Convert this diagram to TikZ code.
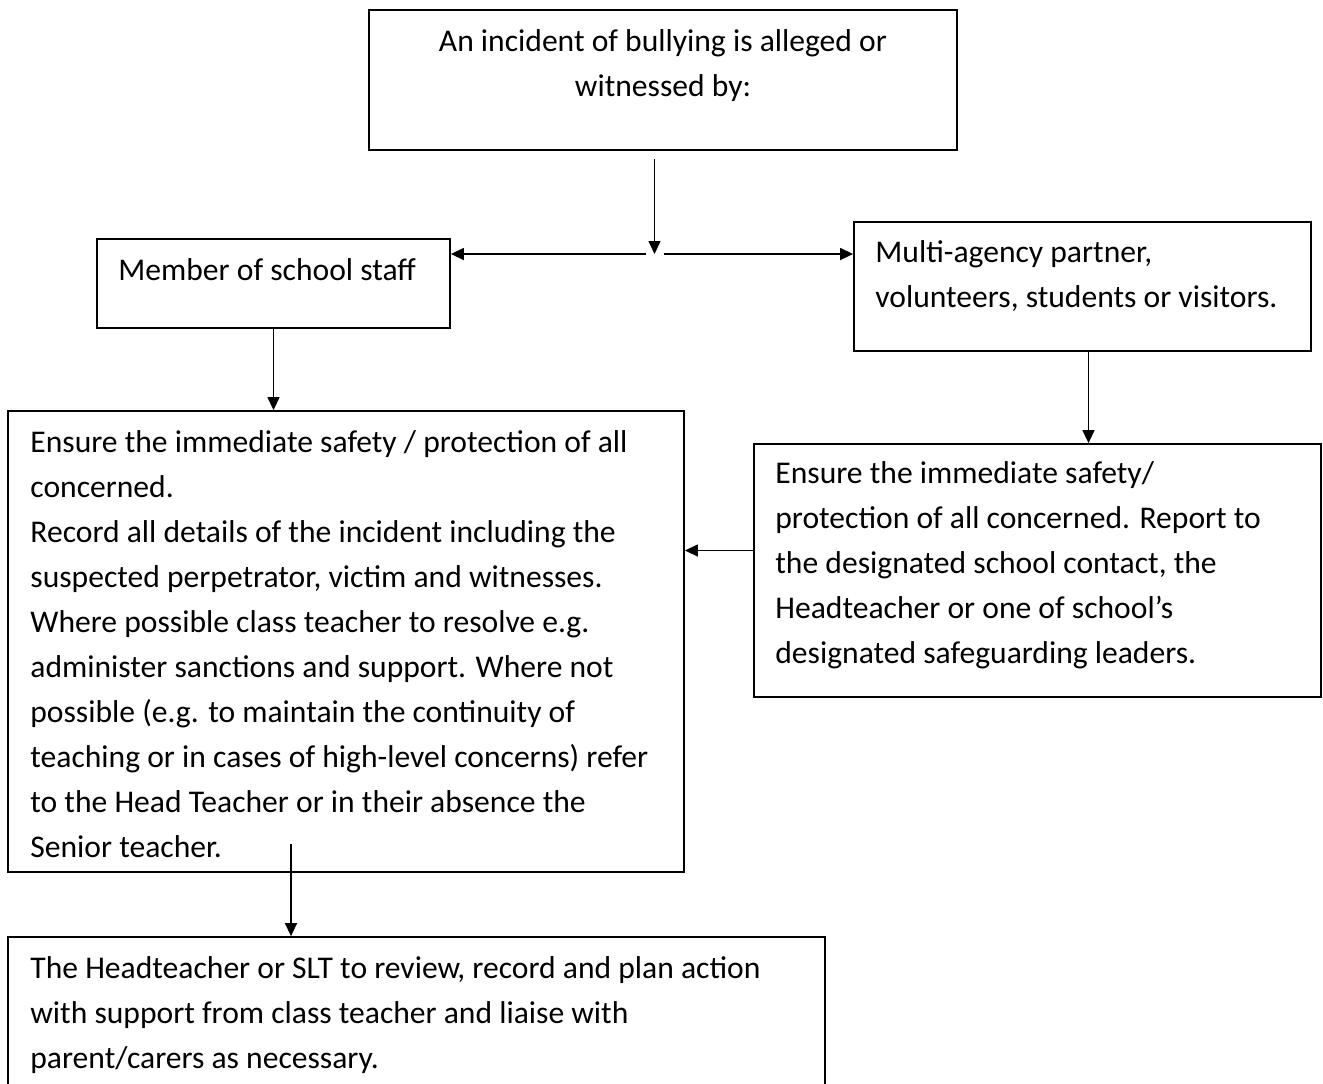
\documentclass[tikz,border=0pt]{standalone}
\usepackage{fontspec}
\setmainfont{Carlito}
\usepackage{tikz}
\usetikzlibrary{arrows.meta,positioning}

\begin{document}
\begin{tikzpicture}[x=0.5pt, y=-0.5pt,
		frame/.style={draw, line width=0.9pt, inner sep=0pt},
		txt/.style={inner sep=0pt, align=left, font=\fontsize{15.8pt}{22.45pt}\selectfont},
		arr/.style={-{Triangle[length=6.5pt, width=6pt]}, line width=0.7pt}]
		\useasboundingbox (0,0) rectangle (1323,1083);
		\clip (0,0) rectangle (1323,1083);
		
		% Define nodes
		\node[frame, minimum width=294pt, minimum height=70pt] (top) at (663,80) {};
		\node[frame, minimum width=176.5pt, minimum height=44.5pt] (staff) at (273.5,283.5) {};
		\node[frame, minimum width=228.5pt, minimum height=64.5pt] (multi) at (1082.5,286.5) {};
		\node[frame, minimum width=338pt, minimum height=230.5pt] (big) at (346,641.5) {};
		\node[frame, minimum width=283.5pt, minimum height=126.5pt] (right) at (1037.5,570.5) {};
		\node[frame, minimum width=408.5pt, minimum height=100pt] (bottom) at (416.5,1037) {};
		\coordinate (split) at (654.5,254);
		
		% Texts (anchored on the baseline of the last line)
		\node[txt, align=center, anchor=base] (topT) at (663,96.5) {An incident of bullying is alleged or\\ witnessed by:};
		\node[txt, anchor=base west] (staffT) at (118,280) {Member of school staff};
		\node[txt, anchor=base west] (multiT) at (875,307) {Multi-agency partner,\\ volunteers, students or visitors.};
		\node[txt, anchor=base west] (bigT) at (30,857) {Ensure the immediate safety / protection of all\\ concerned.\\ Record all details of the incident including the\\ suspected perpetrator, victim and witnesses.\\ Where possible class teacher to resolve e.g.\\ administer sanctions and support. Where not\\ possible (e.g. to maintain the continuity of\\ teaching or in cases of high-level concerns) refer\\ to the Head Teacher or in their absence the\\ Senior teacher.};
		\node[txt, anchor=base west] (rightT) at (775,663) {Ensure the immediate safety/\\ protection of all concerned. Report to\\ the designated school contact, the\\ Headteacher or one of school’s\\ designated safeguarding leaders.};
		\node[txt, anchor=base west] (bottomT) at (30,1068) {The Headteacher or SLT to review, record and plan action\\ with support from class teacher and liaise with\\ parent/carers as necessary.};
		
		% Draw arrows
		\draw[arr] ([yshift=-4pt]top.south -| split) -- (split);
		\draw[arr] ([xshift=-4.5pt]split) -- (split -| staff.east);
		\draw[arr] ([xshift=4.5pt]split) -- (split -| multi.west);
		\draw[arr] (staff.south) -- (staff.south |- big.north);
		\draw[arr] ([xshift=3pt]multi.south) -- ([xshift=3pt]multi.south |- right.north);
		\draw[arr] ([yshift=10pt]right.west) -- ([yshift=10pt]right.west -| big.east);
		\draw[arr] ([xshift=-27.5pt,yshift=14.5pt]big.south) -- ([xshift=-27.5pt]big.south |- bottom.north);
	\end{tikzpicture}
\end{document}
